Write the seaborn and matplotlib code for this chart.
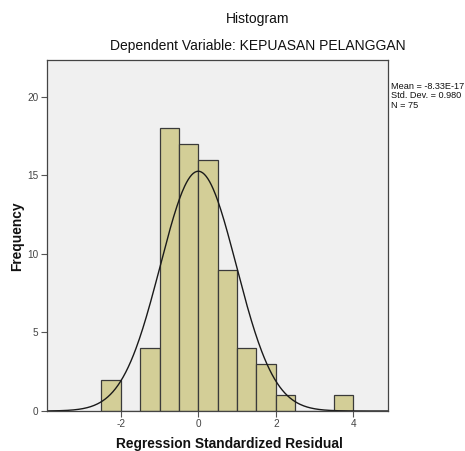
import numpy as np
import pandas as pd
import matplotlib
matplotlib.use("Agg")
import matplotlib.pyplot as plt
import seaborn as sns

# Data
bin_edges = [-2.5, -2.0, -1.5, -1.0, -0.5, 0.0, 0.5, 1.0, 1.5, 2.0, 2.5, 3.0, 3.5, 4.0]
bin_counts = [2, 0, 4, 18, 17, 16, 9, 4, 3, 1, 0, 0, 1]
stat_mean = -8.33e-17
stat_sd = 0.980
stat_n = 75
x_ticks = [-2, 0, 2, 4]
y_ticks = [0, 5, 10, 15, 20]

sns.set_style("white")
plt.rcParams['font.family'] = ['Liberation Sans', 'DejaVu Sans']

centers = [(bin_edges[i] + bin_edges[i + 1]) / 2 for i in range(len(bin_counts))]
df = pd.DataFrame({"resid": centers, "count": bin_counts})

fig = plt.figure(figsize=(4.65, 4.51), dpi=100)
ax = fig.add_axes([47 / 465, 1 - 411 / 451, (388 - 47) / 465, (411 - 60) / 451])
ax.set_facecolor("#f0f0f0")

sns.histplot(data=df, x="resid", weights="count", bins=bin_edges, ax=ax,
             color="#d3ce97", edgecolor="#3a3a3a", linewidth=0.9, alpha=1)

bw = bin_edges[1] - bin_edges[0]
xs = np.linspace(-3.9, 4.9, 400)
ys = stat_n * bw * np.exp(-0.5 * ((xs - stat_mean) / stat_sd) ** 2) / (stat_sd * np.sqrt(2 * np.pi))
sns.lineplot(x=xs, y=ys, ax=ax, color="#1a1a1a", linewidth=1.0)

ax.set_xlim(-3.9, 4.89)
ax.set_ylim(0, 22.35)
ax.set_xticks(x_ticks)
ax.set_xticklabels([str(t) for t in x_ticks])
ax.set_yticks(y_ticks)
ax.set_yticklabels([str(t) for t in y_ticks])
ax.tick_params(axis="both", direction="out", length=4, width=0.8, color="#555555",
               labelsize=7.2, labelcolor="#444444", pad=2)
ax.tick_params(axis="x", bottom=True)
ax.tick_params(axis="y", left=True)
for s in ax.spines.values():
    s.set_color("#444444")
    s.set_linewidth(0.9)
ax.set_xlabel("")
ax.set_ylabel("")

fig.text(258 / 465, 1 - 19 / 451, "Histogram", ha="center", va="center", fontsize=10, color="#111111")
fig.text(258 / 465, 1 - 46 / 451, "Dependent Variable: KEPUASAN PELANGGAN", ha="center", va="center",
         fontsize=10, color="#111111")
fig.text(229 / 465, 1 - 444 / 451, "Regression Standardized Residual", ha="center", va="center",
         fontsize=9.9, fontweight="bold", color="#111111")
fig.text(17 / 465, 1 - 236 / 451, "Frequency", ha="center", va="center", rotation=90,
         fontsize=9.9, fontweight="bold", color="#111111")
fig.text(391 / 465, 1 - 96 / 451,
         "Mean = -8.33E-17\nStd. Dev. = 0.980\nN = 75",
         ha="left", va="center", fontsize=6.6, color="#111111", linespacing=1.05)

fig.savefig("out.png", dpi=100, facecolor="white")
